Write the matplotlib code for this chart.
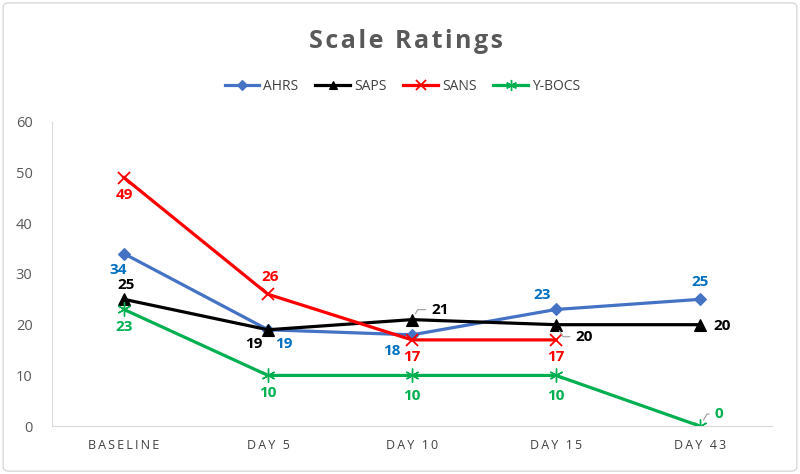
import numpy as np
import matplotlib
matplotlib.use("Agg")
import matplotlib.pyplot as plt
from matplotlib.patches import FancyBboxPatch

# datos
categorias = ["BASELINE", "DAY 5", "DAY 10", "DAY 15", "DAY 43"]
ahrs = [34, 19, 18, 23, 25]
saps = [25, 19, 21, 20, 20]
sans = [49, 26, 17, 17, np.nan]
ybocs = [23, 10, 10, 10, 0]

plt.rcParams['font.family'] = ['Open Sans', 'DejaVu Sans']

fig = plt.figure(figsize=(8, 4.74), dpi=100)
ax = fig.add_axes([0.065, 0.101, 0.9, 0.642])

# borde exterior
borde = FancyBboxPatch((0.004, 0.006), 0.992, 0.988, boxstyle="round,pad=0,rounding_size=0.008",
                       transform=fig.transFigure, fill=False, edgecolor="#D9D9D9", linewidth=1.0)
fig.patches.append(borde)

x = np.arange(len(categorias))
series = [
    ("AHRS", ahrs, "#4472C4", "D", 6, "#0070C0", 0.8),
    ("SAPS", saps, "black", "^", 8, "black", 0.8),
    ("SANS", sans, "#FF0000", "x", 9, "#FF0000", 1.3),
    ("Y-BOCS", ybocs, "#00B050", (6, 2, 0), 10, "#00B050", 1.0),
]
for nombre, vals, color, marca, ms, _, mew in series:
    ax.plot(x, vals, color=color, linewidth=2.3, marker=marca, markersize=ms,
            markeredgewidth=mew, label=nombre, solid_joinstyle="round")

# posiciones de etiquetas (offset en pixeles)
offsets = {
    "AHRS": [(-6, -16), (16, -14), (-20, -16), (-14, 14), (0, 17)],
    "SAPS": [(2, 14), (-14, -14), (28, 10), (28, -12), (22, -1)],
    "SANS": [(0, -17), (2, 17), (0, -17), (0, -17), None],
    "Y-BOCS": [(0, -18), (0, -18), (0, -21), (0, -21), (19, 12)],
}
lideres = {("SAPS", 2), ("SAPS", 3), ("Y-BOCS", 4)}
for nombre, vals, color, marca, ms, ccolor, _ in series:
    for i, v in enumerate(vals):
        off = offsets[nombre][i]
        if off is None or np.isnan(v):
            continue
        kw = {}
        if (nombre, i) in lideres:
            ang = 60 if off[1] > 0 else -60
            kw["arrowprops"] = dict(arrowstyle="-", color="#A6A6A6", lw=0.9, relpos=(0, 0.5),
                                    connectionstyle=f"angle,angleA=0,angleB={ang},rad=0",
                                    shrinkA=2, shrinkB=5)
        ax.annotate(f"{int(v)}", (x[i], v), xytext=off, textcoords="offset pixels",
                    ha="center", va="center", fontsize=11, fontweight="bold", color=ccolor, **kw)

ax.set_xlim(-0.5, len(categorias) - 0.5)
ax.set_ylim(0, 60)
ax.set_yticks(range(0, 61, 10))
ax.set_xticks(x)
ax.set_xticklabels(["\u2009".join(c) for c in categorias], fontsize=9, color="#404040")
ax.tick_params(axis="y", labelsize=10.5, colors="#595959", length=0, pad=14)
ax.tick_params(axis="x", length=0, pad=9)
for lado in ["top", "right"]:
    ax.spines[lado].set_visible(False)
ax.spines["left"].set_color("#D9D9D9")
ax.spines["bottom"].set_color("#D9D9D9")

fig.text(0.508, 0.912, "\u200a".join("Scale Ratings"), ha="center", va="center", fontsize=18,
         fontweight="bold", color="#595959")
fig.legend(loc="center", bbox_to_anchor=(0.503, 0.818), ncol=4, frameon=False,
           fontsize=10, handlelength=2.5, columnspacing=1.2, handletextpad=0.3,
           labelcolor="#404040", markerscale=0.8)

fig.savefig("out.png", dpi=100)
